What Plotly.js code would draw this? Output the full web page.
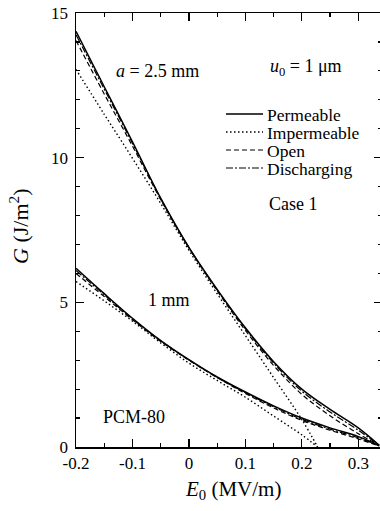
<!DOCTYPE html>
<html>
<head>
<meta charset="utf-8">
<script src="https://cdn.plot.ly/plotly-3.0.1.min.js"></script>
<style>
html,body{margin:0;padding:0;overflow:hidden;background:#fff;}
#chart{width:384px;height:511px;}
</style>
</head>
<body>
<div id="chart"></div>
<script>
// ---- data ----
const E_full = [-0.2,-0.15,-0.1,-0.05,0,0.05,0.1,0.15,0.2,0.25,0.3,0.337];
const E_imp  = [-0.2,-0.15,-0.1,-0.05,0,0.05,0.1,0.15,0.2,0.228];

// a = 2.5 mm
const perm_25  = [14.37,12.45,10.55,8.6,6.9,5.45,4.12,2.95,2.0,1.3,0.66,0.06];
const open_25  = [14.05,12.2,10.4,8.55,6.88,5.4,4.03,2.82,1.82,1.08,0.46,0.06];
const disc_25  = [14.25,12.37,10.5,8.58,6.89,5.43,4.09,2.9,1.93,1.21,0.58,0.06];
const imp_25   = [13.05,11.5,9.98,8.42,6.8,5.3,3.85,2.4,0.95,0.0];

// a = 1 mm
const perm_1   = [6.18,5.3,4.45,3.68,3.02,2.42,1.9,1.42,1.0,0.66,0.36,0.05];
const open_1   = [6.0,5.2,4.4,3.65,3.0,2.4,1.85,1.35,0.92,0.58,0.28,0.03];
const disc_1   = [6.1,5.26,4.43,3.67,3.01,2.41,1.88,1.39,0.96,0.62,0.32,0.04];
const imp_1    = [5.72,5.05,4.35,3.6,2.9,2.3,1.72,1.07,0.42,0.0];

const xTickVals = [-0.2,-0.1,0,0.1,0.2,0.3];
const xTickText = ['-0.2','-0.1','0','0.1','0.2','0.3'];
const yTickVals = [0,5,10,15];
const yTickText = ['0','5','10','15'];

const legendNames = ['Permeable','Impermeable','Open','Discharging'];

// ---- styles ----
const styles = {
  Permeable:   {dash:'solid', width:1.5},
  Impermeable: {dash:'1.5px,2.5px', width:1.4},
  Open:        {dash:'5px,3px', width:1.2},
  Discharging: {dash:'7px,2px,2px,2px', width:1.2}
};

function tr(x, y, kind, grp){
  return {x:x, y:y, type:'scatter', mode:'lines', name:kind+' ('+grp+')',
    showlegend:false, hoverinfo:'skip',
    line:{color:'#000', width:styles[kind].width, dash:styles[kind].dash, shape:'spline', smoothing:1}};
}

const data = [
  tr(E_imp, imp_25, 'Impermeable', 'a = 2.5 mm'),
  tr(E_full, open_25, 'Open', 'a = 2.5 mm'),
  tr(E_full, disc_25, 'Discharging', 'a = 2.5 mm'),
  tr(E_full, perm_25, 'Permeable', 'a = 2.5 mm'),
  tr(E_imp, imp_1, 'Impermeable', 'a = 1 mm'),
  tr(E_full, open_1, 'Open', 'a = 1 mm'),
  tr(E_full, disc_1, 'Discharging', 'a = 1 mm'),
  tr(E_full, perm_1, 'Permeable', 'a = 1 mm')
];

// plot area in pixels: left 76, right 382, top 13, bottom 447
const L=76, R=382, T=13, B=447;
const px2x = p => (p-L)/(R-L);
const py2y = p => (B-p)/(B-T);

const FONT = 'Liberation Serif, Times New Roman, serif';

const legendY = [114,132,150,168];
const shapes = legendNames.map((n,i)=>({
  type:'line', xref:'paper', yref:'paper',
  x0:px2x(226), x1:px2x(263), y0:py2y(legendY[i]), y1:py2y(legendY[i]),
  line:{color:'#000', width:styles[n].width, dash:styles[n].dash}
}));

const annotations = legendNames.map((n,i)=>({
  xref:'paper', yref:'paper', x:px2x(265), y:py2y(legendY[i]+1),
  xanchor:'left', yanchor:'middle', text:n, showarrow:false,
  font:{family:FONT, size:17.5, color:'#000'}
})).concat([
  {xref:'paper', yref:'paper', x:px2x(114), y:py2y(71), xanchor:'left', yanchor:'middle',
   text:'<i>a</i> = 2.5 mm', showarrow:false, font:{family:FONT,size:18,color:'#000'}},
  {xref:'paper', yref:'paper', x:px2x(268), y:py2y(67), xanchor:'left', yanchor:'middle',
   text:'<i>u</i><sub>0</sub> = 1 μm', showarrow:false, font:{family:FONT,size:18,color:'#000'}},
  {xref:'paper', yref:'paper', x:px2x(146), y:py2y(300), xanchor:'left', yanchor:'middle',
   text:'1 mm', showarrow:false, font:{family:FONT,size:18,color:'#000'}},
  {xref:'paper', yref:'paper', x:px2x(267), y:py2y(204), xanchor:'left', yanchor:'middle',
   text:'Case 1', showarrow:false, font:{family:FONT,size:18,color:'#000'}},
  {xref:'paper', yref:'paper', x:px2x(101), y:py2y(417), xanchor:'left', yanchor:'middle',
   text:'PCM-80', showarrow:false, font:{family:FONT,size:18,color:'#000'}},
  // axis titles
  {xref:'paper', yref:'paper', x:px2x(233), y:py2y(490), xanchor:'center', yanchor:'middle',
   text:'<i>E</i><sub>0</sub> (MV/m)', showarrow:false, font:{family:FONT,size:21,color:'#000'}},
  {xref:'paper', yref:'paper', x:px2x(19), y:py2y(226), xanchor:'center', yanchor:'middle',
   textangle:-90, text:'<i>G</i> (J/m<sup>2</sup>)', showarrow:false, font:{family:FONT,size:22,color:'#000'}}
]);

const layout = {
  width:384, height:511,
  margin:{l:L, r:384-R, t:T, b:511-B},
  paper_bgcolor:'#fff', plot_bgcolor:'#fff',
  showlegend:false,
  font:{family:FONT, color:'#000', size:17},
  xaxis:{
    range:[-0.2,0.342], tickmode:'array', tickvals:xTickVals, ticktext:xTickText,
    ticks:'inside', ticklen:8, tickwidth:1.2, tickcolor:'#000',
    minor:{dtick:0.05, tick0:-0.2, ticks:'inside', ticklen:4, tickwidth:1.2, tickcolor:'#000', showgrid:false},
    showline:true, linecolor:'#000', linewidth:1.5, mirror:'allticks',
    showgrid:false, zeroline:false,
    tickfont:{family:FONT, size:17, color:'#000'}
  },
  yaxis:{
    range:[0,15], tickmode:'array', tickvals:yTickVals, ticktext:yTickText,
    ticks:'inside', ticklen:8, tickwidth:1.2, tickcolor:'#000',
    minor:{dtick:1, tick0:0, ticks:'inside', ticklen:4, tickwidth:1.2, tickcolor:'#000', showgrid:false},
    showline:true, linecolor:'#000', linewidth:1.5, mirror:'allticks',
    showgrid:false, zeroline:false,
    ticklabelstandoff:3,
    tickfont:{family:FONT, size:17, color:'#000'}
  },
  shapes:shapes,
  annotations:annotations
};

Plotly.newPlot('chart', data, layout, {displayModeBar:false, staticPlot:true});
</script>
</body>
</html>
